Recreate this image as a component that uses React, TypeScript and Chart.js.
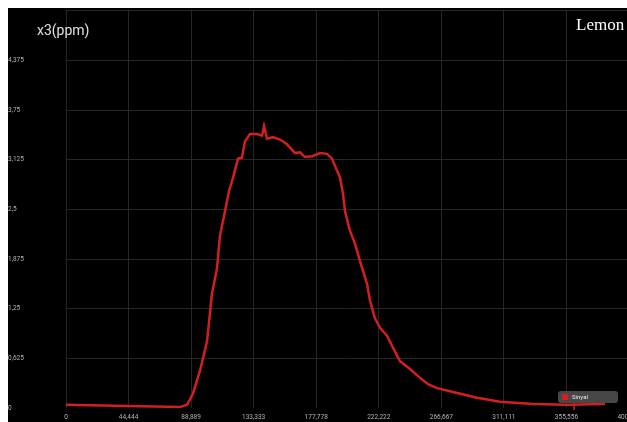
import React, { useEffect, useRef } from "react";
import { Chart, registerables } from "chart.js";

Chart.register(...registerables);

const seriesLabel = "Sinyal";
const xValues = [
  0, 43340, 81000, 86000, 90200, 95200, 100200, 103700, 107300, 109400, 113000,
  115800, 118700, 122200, 125000, 127200, 130700, 135700, 139300, 140700, 142800,
  147100, 152000, 157000, 162700, 166300, 169800, 174800, 180500, 185400, 189000,
  191100, 194700, 196800, 198200, 201800, 205300, 208900, 213900, 216000, 219500,
  223100, 228100, 232300, 237300, 244400, 251500, 257200, 263600, 272800, 292000,
  308400, 331800, 356000, 383000,
];
const yValues = [
  0.04, 0.025, 0.013, 0.04, 0.18, 0.47, 0.84, 1.44, 1.76, 2.17, 2.48,
  2.73, 2.9, 3.14, 3.15, 3.36, 3.45, 3.45, 3.43, 3.55, 3.39,
  3.41, 3.38, 3.32, 3.21, 3.22, 3.16, 3.17, 3.21, 3.2, 3.14,
  3.05, 2.9, 2.7, 2.48, 2.23, 2.07, 1.85, 1.56, 1.35, 1.13,
  1.01, 0.91, 0.76, 0.59, 0.49, 0.38, 0.3, 0.25, 0.21, 0.13,
  0.08, 0.05, 0.04, 0.05,
];
const xTicks = [0, 44444, 88889, 133333, 177778, 222222, 266667, 311111, 355556, 400000];
const xTickLabels = ["0", "44,444", "88,889", "133,333", "177,778", "222,222", "266,667", "311,111", "355,556", "400,000"];
const yTicks = [0, 0.625, 1.25, 1.875, 2.5, 3.125, 3.75, 4.375, 5];
const yTickLabels = ["0", "0,625", "1,25", "1,875", "2,5", "3,125", "3,75", "4,375", ""];

const LINE_COLOR = "#d21f1f";

const legendPlugin = {
  id: "customLegend",
  afterDraw(chart: any) {
    const ctx = chart.ctx;
    ctx.save();
    const x = 550, y = 388, w = 60, h = 12, r = 3;
    ctx.fillStyle = "#474747";
    ctx.beginPath();
    ctx.moveTo(x + r, y);
    ctx.lineTo(x + w - r, y);
    ctx.quadraticCurveTo(x + w, y, x + w, y + r);
    ctx.lineTo(x + w, y + h - r);
    ctx.quadraticCurveTo(x + w, y + h, x + w - r, y + h);
    ctx.lineTo(x + r, y + h);
    ctx.quadraticCurveTo(x, y + h, x, y + h - r);
    ctx.lineTo(x, y + r);
    ctx.quadraticCurveTo(x, y, x + r, y);
    ctx.fill();
    ctx.fillStyle = LINE_COLOR;
    ctx.fillRect(x + 4, y + 3, 6, 6);
    ctx.strokeStyle = LINE_COLOR;
    ctx.lineWidth = 1.5;
    ctx.beginPath();
    ctx.moveTo(566, y + h);
    ctx.lineTo(566, y + h + 7);
    ctx.stroke();
    ctx.fillStyle = "#e8e8e8";
    ctx.font = "6px Roboto";
    ctx.textBaseline = "middle";
    ctx.fillText(chart.data.datasets[0].label, x + 14, y + h / 2);
    ctx.restore();
  },
};

export default function App() {
  const ref = useRef<HTMLCanvasElement>(null);
  useEffect(() => {
    if (!ref.current) return;
    const chart = new Chart(ref.current, {
      type: "line",
      data: {
        datasets: [
          {
            label: seriesLabel,
            data: xValues.map((x, i) => ({ x, y: yValues[i] })),
            borderColor: LINE_COLOR,
            backgroundColor: LINE_COLOR,
            borderWidth: 2.5,
            pointRadius: 0,
            tension: 0,
          },
        ],
      },
      options: {
        responsive: false,
        animation: false,
        layout: { padding: { top: 0, right: 19, left: 0, bottom: 0 } },
        plugins: { legend: { display: false }, tooltip: { enabled: false } },
        scales: {
          x: {
            type: "linear",
            min: 0,
            max: 400000,
            afterBuildTicks: (axis: any) => {
              axis.ticks = xTicks.map((v) => ({ value: v }));
            },
            afterFit: (axis: any) => {
              axis.height = 15;
            },
            ticks: {
              autoSkip: false,
              maxRotation: 0,
              padding: 5,
              color: "#b5b5b5",
              font: { family: "Roboto", size: 6.5 },
              callback: (v: any) => {
                const i = xTicks.indexOf(Number(v));
                return i >= 0 ? xTickLabels[i] : "";
              },
            },
            grid: { color: "#262626", lineWidth: 1, drawTicks: false },
            border: { display: false },
          },
          y: {
            type: "linear",
            min: 0,
            max: 5,
            afterBuildTicks: (axis: any) => {
              axis.ticks = yTicks.map((v) => ({ value: v }));
            },
            afterFit: (axis: any) => {
              axis.width = 58;
            },
            ticks: {
              autoSkip: false,
              crossAlign: "far",
              padding: 4,
              color: "#b5b5b5",
              font: { family: "Roboto", size: 6.5 },
              callback: (v: any) => {
                const i = yTicks.indexOf(Number(v));
                return i >= 0 ? yTickLabels[i] : "";
              },
            },
            grid: {
              color: (c: any) => (c.tick && c.tick.value === 0 ? "rgba(0,0,0,0)" : "#262626"),
              lineWidth: 1,
              drawTicks: false,
            },
            border: { display: false },
          },
        },
      },
      plugins: [legendPlugin],
    } as any);
    return () => chart.destroy();
  }, []);

  return (
    <div
      style={{
        position: "fixed",
        top: 8,
        left: 8,
        width: 619,
        height: 414,
        overflow: "hidden",
        background: "#000",
      }}
    >
      <canvas
        ref={ref}
        width={640}
        height={420}
        style={{ display: "block", background: "#000", marginTop: -5 }}
      />
      <div
        style={{
          position: "absolute",
          left: 29,
          top: 14,
          color: "#e2e2e2",
          fontFamily: "Roboto",
          fontSize: 14,
          lineHeight: "16px",
          whiteSpace: "nowrap",
        }}
      >
        x3(ppm)
      </div>
      <div
        style={{
          position: "absolute",
          left: 568,
          top: 8,
          color: "#ffffff",
          fontFamily: "'Liberation Serif', serif",
          fontSize: 17,
          lineHeight: "18px",
          whiteSpace: "nowrap",
        }}
      >
        Lemon
      </div>
    </div>
  );
}
